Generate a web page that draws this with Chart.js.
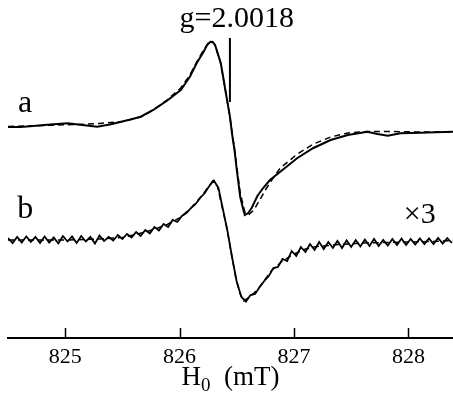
<!DOCTYPE html>
<html>
<head>
<meta charset="utf-8">
<script src="https://cdn.jsdelivr.net/npm/chart.js@4.4.1/dist/chart.umd.min.js"></script>
<style>
  html, body { margin: 0; padding: 0; background: #fff; }
  canvas { display: block; }
</style>
</head>
<body>
<canvas id="epr" width="453" height="399"></canvas>
<script>
// field axis (mT)
const xMin = 824.5;
const xMax = 828.39;
const xTicks = [825, 826, 827, 828];

// vertical offsets of the two stacked spectra (arb. units)
const OFFSET_A = 211;
const OFFSET_B = 98;

// spectrum a: measured (solid) and fitted (dashed)
const aField = [824.50, 824.61, 824.72, 824.87, 825.02, 825.15, 825.28, 825.39, 825.48, 825.57,
  825.66, 825.77, 825.89, 826.01, 826.09, 826.15, 826.21, 826.24, 826.27, 826.29,
  826.31, 826.36, 826.40, 826.44, 826.46, 826.48, 826.50, 826.53, 826.56, 826.57,
  826.60, 826.63, 826.68, 826.73, 826.79, 826.88, 827.03, 827.17, 827.32, 827.47,
  827.55, 827.64, 827.73, 827.82, 827.93, 828.11, 828.24, 828.39];
const aMeasured = [0, 0, 1, 2.5, 3.7, 2, 0.3, 2.5, 5, 7.5,
  10.3, 17, 26.3, 37, 50.3, 64, 75.3, 82, 85.3, 85,
  82, 64, 37, 10.3, -8, -23, -43, -70, -84, -88,
  -86, -81, -69, -61, -53, -44.7, -31, -21, -13, -8,
  -6.5, -4.7, -7, -8.7, -6.3, -5.7, -5.3, -4.7];

const aFitField = [824.50, 824.80, 825.10, 825.30, 825.50, 825.66, 825.77, 825.89, 826.01, 826.09,
  826.15, 826.21, 826.25, 826.28, 826.31, 826.36, 826.40, 826.44, 826.48, 826.53,
  826.57, 826.60, 826.65, 826.70, 826.75, 826.80, 826.88, 827.03, 827.17, 827.32,
  827.47, 827.64, 827.82, 828.11, 828.39];
const aFit = [0.5, 1.5, 2.5, 3.5, 5.5, 10, 17, 27, 39, 52,
  65, 77, 84, 86, 82, 63, 37, 10, -22, -66,
  -85, -88, -83, -73, -63, -54, -41, -27, -17, -10,
  -6, -4.5, -4.5, -5, -5];

// spectrum b (x3): measured (noisy, solid) and fitted (dashed)
const bField = [824.50, 824.54, 824.58, 824.62, 824.66, 824.70, 824.74, 824.78, 824.82, 824.86,
  824.90, 824.94, 824.98, 825.02, 825.06, 825.10, 825.14, 825.18, 825.22, 825.26,
  825.30, 825.34, 825.38, 825.42, 825.46, 825.50, 825.54, 825.58, 825.62, 825.66,
  825.70, 825.74, 825.78, 825.82, 825.86, 825.90, 825.94, 825.98, 826.02, 826.06,
  826.10, 826.14, 826.18, 826.22, 826.26, 826.30, 826.34, 826.38, 826.42, 826.46,
  826.50, 826.54, 826.58, 826.62, 826.66, 826.70, 826.74, 826.78, 826.82, 826.86,
  826.90, 826.94, 826.98, 827.02, 827.06, 827.10, 827.14, 827.18, 827.22, 827.26,
  827.30, 827.34, 827.38, 827.42, 827.46, 827.50, 827.54, 827.58, 827.62, 827.66,
  827.70, 827.74, 827.78, 827.82, 827.86, 827.90, 827.94, 827.98, 828.02, 828.06,
  828.10, 828.14, 828.18, 828.22, 828.26, 828.30, 828.34, 828.38];
const bMeasured = [2, -3, 3, -2.5, 3.5, -2, 3, -3, 3.5, -2.5,
  2.5, -3.5, 4, -1.5, 3.5, -3, 4, -1.5, 3, -3.5,
  4.5, -1, 3, -0.5, 5, 1, 6, 2.5, 8, 4,
  10, 6.5, 13, 9.5, 16, 13, 20, 18, 24, 27,
  32, 36, 42, 47, 54, 59.5, 52, 30, 8, -18,
  -42, -57, -61.5, -55, -54, -47, -41, -36, -28, -27,
  -19, -21, -11, -16, -7, -12, -4, -10, -2, -9,
  -2, -8, -1, -8, -0.5, -7, 0, -6.5, 0.5, -6,
  1, -6, 0, -5.5, 1, -5, 1.5, -5, 1, -4.5,
  1.5, -4, 1.5, -4, 2, -3.5, 2, -3];

const bFitField = [824.50, 825.00, 825.30, 825.50, 825.60, 825.70, 825.80, 825.90, 826.00, 826.10,
  826.20, 826.25, 826.29, 826.33, 826.37, 826.41, 826.45, 826.49, 826.53, 826.56,
  826.60, 826.65, 826.70, 826.75, 826.80, 826.90, 827.00, 827.10, 827.20, 827.40,
  827.60, 827.80, 828.00, 828.20, 828.39];
const bFit = [0, 0, 1, 2.5, 5, 8, 11.5, 16, 22, 32,
  45, 53, 59, 54, 34, 14, -12, -37, -54, -61,
  -58, -53, -47, -39, -31, -21, -14, -9, -6.5, -4.5,
  -3, -2.5, -2, -1.5, -0.5];

// g-value marker and trace labels (field, height)
const gMarker = { field: 826.44, from: 236, to: 300 };
const labels = [
  { text: "g=2.0018", field: 826.50, y: 311, size: 30 },
  { text: "a", field: 824.65, y: 226, size: 32 },
  { text: "b", field: 824.65, y: 120, size: 32 },
  { text: "\u00d73", field: 828.10, y: 115, size: 30 }
];

// axis title pieces: H with subscript 0, then unit
const axisTitle = [
  { text: "H", size: 27, drop: 0 },
  { text: "0", size: 19, drop: 6 },
  { text: "  (mT)", size: 27, drop: 0 }
];

function toPoints(xs, ys, offset) {
  return xs.map((x, i) => ({ x: x, y: ys[i] + offset }));
}

const serif = '"Liberation Serif", "Times New Roman", serif';

const extras = {
  id: "extras",
  afterDraw(chart) {
    const ctx = chart.ctx;
    const xs = chart.scales.x;
    const ys = chart.scales.y;
    ctx.save();
    ctx.strokeStyle = "#000";
    ctx.fillStyle = "#000";

    // tick marks pointing up from the axis
    ctx.lineWidth = 1.5;
    xs.ticks.forEach(t => {
      const px = Math.round(xs.getPixelForValue(t.value)) + 0.5;
      ctx.beginPath();
      ctx.moveTo(px, xs.top);
      ctx.lineTo(px, xs.top - 10);
      ctx.stroke();
    });

    // g marker
    ctx.lineWidth = 2;
    const gx = xs.getPixelForValue(gMarker.field);
    ctx.beginPath();
    ctx.moveTo(gx, ys.getPixelForValue(gMarker.from));
    ctx.lineTo(gx, ys.getPixelForValue(gMarker.to));
    ctx.stroke();

    ctx.textBaseline = "alphabetic";
    ctx.textAlign = "center";
    labels.forEach(l => {
      ctx.font = l.size + "px " + serif;
      ctx.fillText(l.text, xs.getPixelForValue(l.field), ys.getPixelForValue(l.y));
    });

    // axis title
    ctx.textAlign = "left";
    let total = 0;
    axisTitle.forEach(p => {
      ctx.font = p.size + "px " + serif;
      p.w = ctx.measureText(p.text).width;
      total += p.w;
    });
    let tx = (chart.chartArea.left + chart.chartArea.right) / 2 - total / 2;
    const base = xs.bottom - 14;
    axisTitle.forEach(p => {
      ctx.font = p.size + "px " + serif;
      ctx.fillText(p.text, tx, base + p.drop);
      tx += p.w;
    });
    ctx.restore();
  }
};

new Chart(document.getElementById("epr"), {
  type: "line",
  data: {
    datasets: [
      { data: toPoints(aFitField, aFit, OFFSET_A), borderColor: "#000", borderWidth: 1.5, borderDash: [6, 4] },
      { data: toPoints(bFitField, bFit, OFFSET_B), borderColor: "#000", borderWidth: 1.5, borderDash: [6, 4] },
      { data: toPoints(aField, aMeasured, OFFSET_A), borderColor: "#000", borderWidth: 2 },
      { data: toPoints(bField, bMeasured, OFFSET_B), borderColor: "#000", borderWidth: 1.8 }
    ]
  },
  options: {
    responsive: false,
    animation: false,
    layout: { padding: { left: 8, right: 0, top: 0, bottom: 0 } },
    elements: { point: { radius: 0 }, line: { tension: 0 } },
    plugins: { legend: { display: false }, tooltip: { enabled: false } },
    scales: {
      x: {
        type: "linear",
        min: xMin,
        max: xMax,
        afterFit(scale) { scale.height = 61; },
        afterBuildTicks(scale) { scale.ticks = xTicks.map(v => ({ value: v })); },
        ticks: {
          color: "#000",
          padding: 8,
          font: { family: serif, size: 22, lineHeight: 1 },
          callback: v => String(v)
        },
        grid: { display: false, drawTicks: false },
        border: { display: true, color: "#000", width: 2 },
        title: { display: false }
      },
      y: {
        display: false,
        min: 0,
        max: 338
      }
    }
  },
  plugins: [extras]
});
</script>
</body>
</html>
